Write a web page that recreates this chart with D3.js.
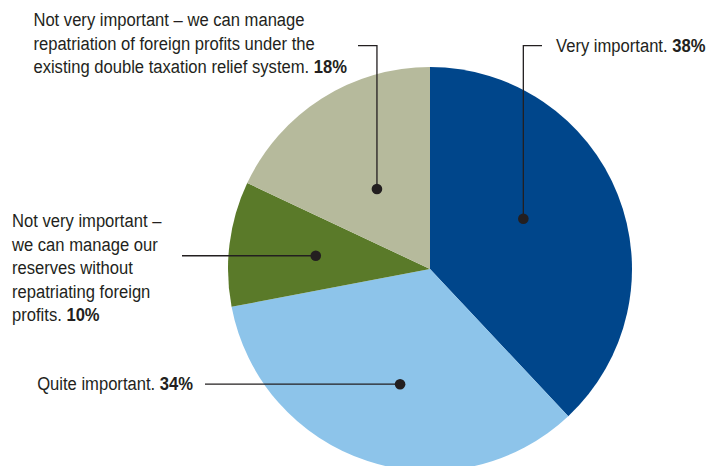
<!DOCTYPE html>
<html>
<head>
<meta charset="utf-8">
<script src="https://cdn.jsdelivr.net/npm/d3@7"></script>
<style>
  html, body { margin: 0; padding: 0; background: #ffffff; }
  svg text { font-family: "Liberation Sans", Arial, sans-serif; fill: #231f20; }
</style>
</head>
<body>
<svg id="chart" width="711" height="466"></svg>
<script>
// Survey answers, clockwise from 12 o'clock
const categories = [
  "Very important",
  "Quite important",
  "Not very important (reserves)",
  "Not very important (double taxation relief)"
];
const values = [38, 34, 10, 18];
const labelLines = [
  ["Very important."],
  ["Quite important."],
  ["Not very important –", "we can manage our", "reserves without", "repatriating foreign", "profits."],
  ["Not very important – we can manage", "repatriation of foreign profits under the", "existing double taxation relief system."]
];
const colors = ["#00468b", "#8dc4ea", "#5a7a29", "#b6ba9c"];

const width = 711, height = 466;
const cx = 430, cy = 269, R = 202;
const fontSize = 19, lineH = 23.5;

const svg = d3.select("#chart");
const g = svg.append("g").attr("transform", `translate(${cx},${cy})`);

const pie = d3.pie().sort(null).value(d => d);
const arcs = pie(values);
const arc = d3.arc().innerRadius(0).outerRadius(R);

g.selectAll("path.slice")
  .data(arcs)
  .enter().append("path")
  .attr("class", "slice")
  .attr("d", arc)
  .attr("fill", (d, i) => colors[i]);

// Narrow face: regular sans squeezed horizontally to a condensed width
function addLine(parent, x, y, plain, bold, anchor) {
  const t = parent.append("text")
    .attr("font-size", fontSize)
    .attr("text-anchor", anchor || "start")
    .attr("transform", `translate(${x},${y}) scale(${squeeze},1)`);
  t.append("tspan").text(plain);
  if (bold) t.append("tspan").attr("font-weight", "bold").text(" " + bold);
  return t;
}
let squeeze = 1;
{
  const probe = addLine(svg, 0, -100, "Quite important.", "34%");
  squeeze = 156 / probe.node().getComputedTextLength();
  probe.remove();
}
function lineWidth(plain, bold) {
  const p = addLine(svg, 0, -100, plain, bold);
  const w = p.node().getComputedTextLength() * squeeze;
  p.remove();
  return w;
}

// Leader layout: dot radius/angle nudge, elbow and text anchor per slice
const leaders = [
  { r: 106, nudge: -0.117, elbowY: 45.7, endX: 542, textX: 556, textY: 52, anchor: "start" },
  { r: 119, nudge: -0.06, endX: 205, textX: 193, textY: 390, anchor: "end" },
  { r: 115, nudge: -0.01, endX: 182, textX: 12, textY: 227, anchor: "start" },
  { r: 96, nudge: -0.02, elbowY: 45.7, endX: 358, textX: 347, textY: 73, anchor: "block-end" }
];

arcs.forEach((a, i) => {
  const L = leaders[i];
  const ang = (a.startAngle + a.endAngle) / 2 + L.nudge;
  const px = cx + L.r * Math.sin(ang);
  const py = cy - L.r * Math.cos(ang);
  const pts = L.elbowY !== undefined
    ? [[px, py], [px, L.elbowY], [L.endX, L.elbowY]]
    : [[px, py], [L.endX, py]];
  svg.append("path")
    .attr("d", d3.line()(pts))
    .attr("fill", "none")
    .attr("stroke", "#231f20")
    .attr("stroke-width", 1.3);
  svg.append("circle")
    .attr("cx", px).attr("cy", py).attr("r", 5.3)
    .attr("fill", "#231f20");

  const lines = labelLines[i];
  const pct = values[i] + "%";
  const last = lines.length - 1;
  if (L.anchor === "start") {
    lines.forEach((ln, k) => addLine(svg, L.textX, L.textY + k * lineH, ln, k === last ? pct : null));
  } else if (L.anchor === "end") {
    addLine(svg, L.textX, L.textY, lines[0], pct, "end");
  } else {
    // left-aligned block whose last line ends at textX
    const x0 = L.textX - lineWidth(lines[last], pct);
    lines.forEach((ln, k) => addLine(svg, x0, L.textY - (last - k) * lineH, ln, k === last ? pct : null));
  }
});
</script>
</body>
</html>
